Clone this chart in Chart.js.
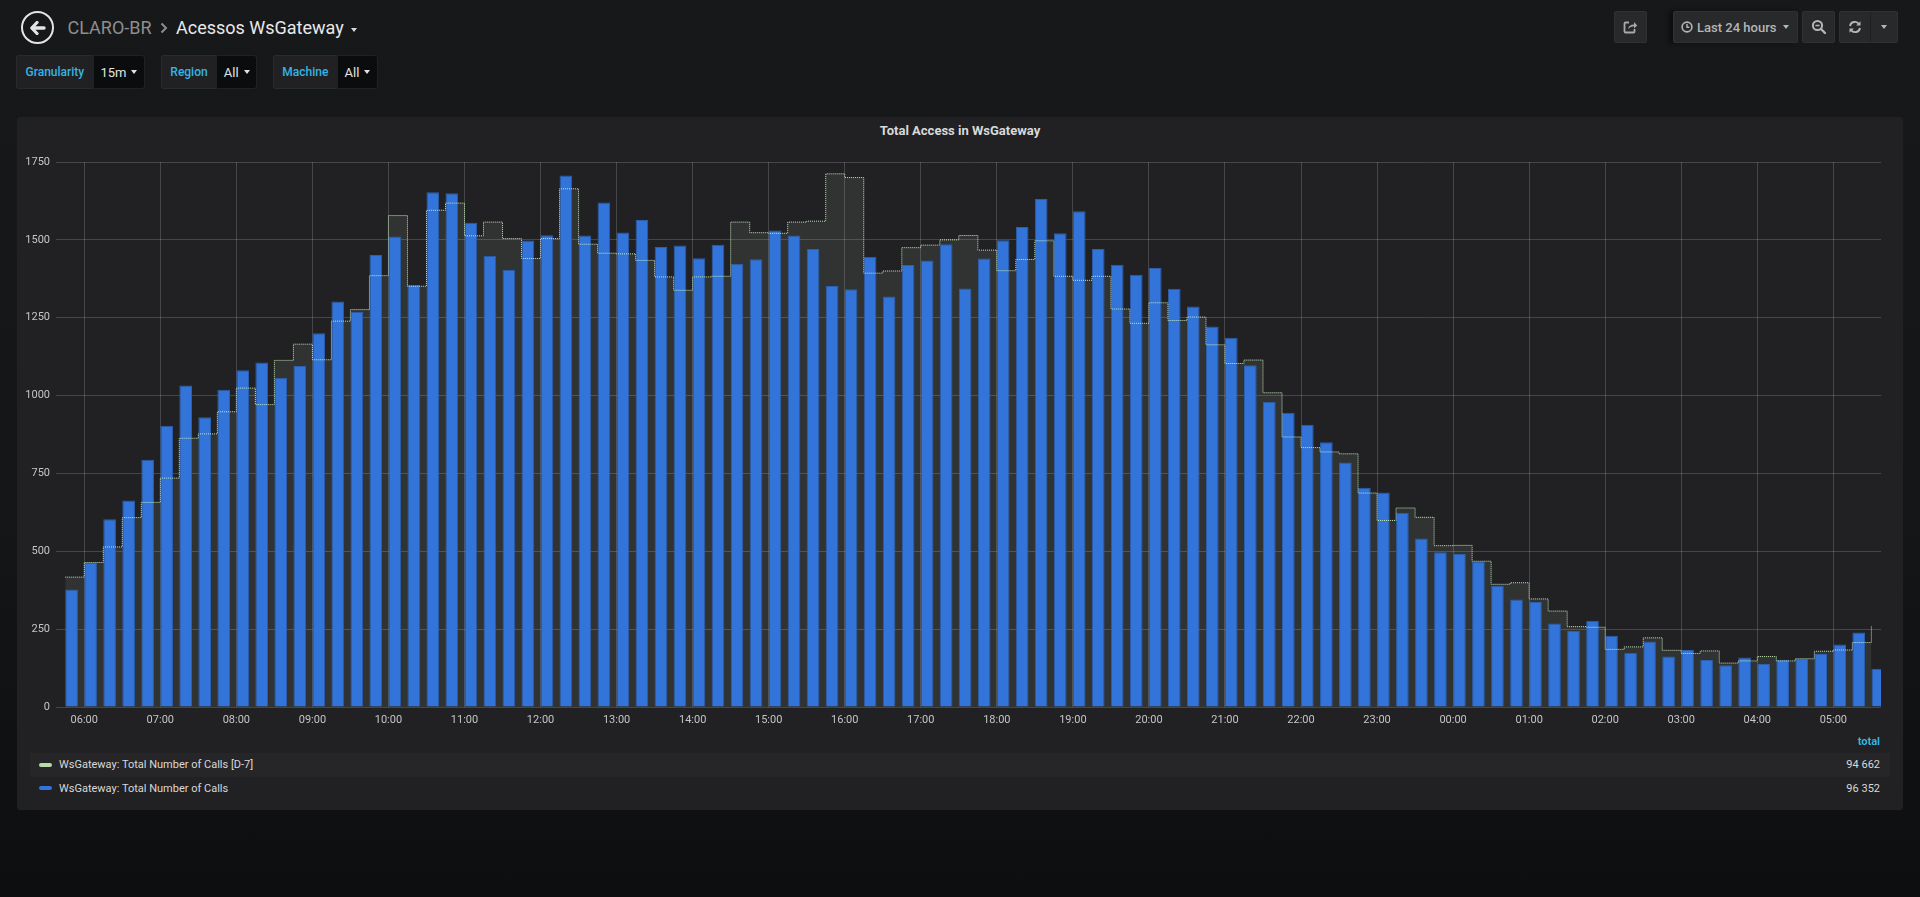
<!DOCTYPE html>
<html lang="pt-BR">
<head>
<meta charset="utf-8">
<title>Acessos WsGateway</title>
<script src="https://cdn.jsdelivr.net/npm/chart.js@4.4.1/dist/chart.umd.min.js"></script>
<style>
  * { box-sizing: border-box; }
  html, body { margin: 0; padding: 0; }
  body {
    width: 1920px;
    height: 897px;
    overflow: hidden;
    position: relative;
    background: linear-gradient(#17181a 0%, #151618 55%, #0d0e10 100%);
    font-family: Roboto, 'Noto Sans', sans-serif;
    color: #d8d9da;
  }
  .abs { position: absolute; }
  .back {
    left: 21px; top: 11px; width: 33px; height: 33px;
    border: 2.3px solid #e4e4e4; border-radius: 50%;
    display: flex; align-items: center; justify-content: center;
  }
  .crumb { top: 9px; height: 36px; display: flex; align-items: center; font-size: 18px; white-space: nowrap; }
  .caret {
    width: 0; height: 0;
    border-left: 3.5px solid transparent;
    border-right: 3.5px solid transparent;
    border-top: 4px solid currentColor;
  }
  .var { top: 55px; height: 34px; display: flex; }
  .var .lbl {
    background: #212124; border: 1px solid #2a2b2e; border-right: none;
    color: #33b5e5; font-size: 12px; font-weight: 500;
    display: flex; align-items: center; justify-content: center;
    border-radius: 3px 0 0 3px;
  }
  .var .val {
    background: #0b0c0e; border: 1px solid #202124; border-radius: 0 3px 3px 0;
    color: #e3e3e3; font-size: 13px;
    display: flex; align-items: center; justify-content: center; gap: 5px;
  }
  .btn {
    top: 11px; height: 32px;
    background: #28292b; border: 1px solid #303134; border-radius: 2px;
    color: #b5b5b5; font-size: 13px; font-weight: 500;
    display: flex; align-items: center; justify-content: center;
  }
  .panel { left: 17px; top: 117px; width: 1886px; height: 693px; background: #212124; border-radius: 3px; }
  .ptitle { left: 17px; width: 1886px; top: 122px; line-height: 18px; text-align: center; font-size: 13px; font-weight: 700; color: #d8d9da; }
  .chartbox { left: 17px; top: 140px; width: 1886px; height: 597px; }
  .ltotal { right: 40px; top: 734px; line-height: 16px; font-size: 11px; font-weight: 700; color: #33b5e5; }
  .lrow { left: 30px; width: 1860px; height: 23.4px; display: flex; align-items: center; font-size: 11px; color: #d8d9da; }
  .lrow .sw { margin-left: 9.3px; width: 12.7px; height: 4px; border-radius: 2px; }
  .lrow .nm { margin-left: 7px; }
  .lrow .tot { margin-left: auto; padding-right: 10px; }
</style>
</head>
<body>

<div class="abs back">
  <svg width="16" height="14" viewBox="0 0 16 14">
    <path d="M7 1.5 L1.8 7 L7 12.5" fill="none" stroke="#e4e4e4" stroke-width="3.2" stroke-linecap="round" stroke-linejoin="round"/>
    <path d="M2.5 7 H14" stroke="#e4e4e4" stroke-width="3.4" stroke-linecap="round"/>
  </svg>
</div>
<div class="abs crumb" style="left:67.5px;color:#8e8e8e;">CLARO-BR</div>
<svg class="abs" style="left:159.5px;top:21.5px;" width="8" height="12" viewBox="0 0 8 12">
  <path d="M1.5 1.5 L6 6 L1.5 10.5" fill="none" stroke="#8e8e8e" stroke-width="2"/>
</svg>
<div class="abs crumb" style="left:176px;color:#e9e9e9;">Acessos WsGateway</div>
<div class="abs caret" style="left:351px;top:28px;color:#d8d9da;"></div>

<div class="abs var" style="left:16px;">
  <div class="lbl" style="width:76.7px;">Granularity</div>
  <div class="val" style="width:52.6px;">15m<span class="caret"></span></div>
</div>
<div class="abs var" style="left:161px;">
  <div class="lbl" style="width:55px;">Region</div>
  <div class="val" style="width:41.3px;">All<span class="caret"></span></div>
</div>
<div class="abs var" style="left:273px;">
  <div class="lbl" style="width:63.7px;">Machine</div>
  <div class="val" style="width:41.6px;">All<span class="caret"></span></div>
</div>

<div class="abs btn" style="left:1614px;width:33px;">
  <svg width="15" height="14" viewBox="0 0 15 14">
    <path d="M6 2.5 H2.5 Q1.5 2.5 1.5 3.5 V11.5 Q1.5 12.5 2.5 12.5 H10.5 Q11.5 12.5 11.5 11.5 V9" fill="none" stroke="#a9a9a9" stroke-width="1.8"/>
    <path d="M5 9 Q6 4.5 11 4.5 V2 L14.2 5.4 L11 8.6 V6.3 Q7.5 6.3 5 9 Z" fill="#a9a9a9"/>
  </svg>
</div>
<div class="abs btn" style="left:1673px;width:124.5px;box-shadow:-4px 0 4px rgba(0,0,0,0.45);gap:4px;">
  <svg width="12" height="12" viewBox="0 0 12 12">
    <circle cx="6" cy="6" r="4.9" fill="none" stroke="#b5b5b5" stroke-width="1.6"/>
    <path d="M6 3 V6.3 H8.4" fill="none" stroke="#b5b5b5" stroke-width="1.4"/>
  </svg>
  <span>Last 24 hours</span>
  <span class="caret" style="margin-left:3px;"></span>
</div>
<div class="abs btn" style="left:1802px;width:33px;">
  <svg width="16" height="16" viewBox="0 0 16 16">
    <circle cx="6.5" cy="6.5" r="4.6" fill="none" stroke="#b5b5b5" stroke-width="2"/>
    <path d="M4.4 6.5 H8.6" stroke="#b5b5b5" stroke-width="1.6"/>
    <path d="M10 10 L14 14" stroke="#b5b5b5" stroke-width="2.4" stroke-linecap="round"/>
  </svg>
</div>
<div class="abs btn" style="left:1839px;width:58.5px;justify-content:flex-start;">
  <div style="width:31px;height:100%;display:flex;align-items:center;justify-content:center;border-right:1px solid #1f2022;">
    <svg width="14" height="14" viewBox="0 0 14 14">
      <path d="M2 6 A5 5 0 0 1 11 4" fill="none" stroke="#b5b5b5" stroke-width="1.9"/>
      <path d="M12.5 1.2 V5.6 H8.1 Z" fill="#b5b5b5"/>
      <path d="M12 8 A5 5 0 0 1 3 10" fill="none" stroke="#b5b5b5" stroke-width="1.9"/>
      <path d="M1.5 12.8 V8.4 H5.9 Z" fill="#b5b5b5"/>
    </svg>
  </div>
  <div style="flex:1;display:flex;align-items:center;justify-content:center;"><span class="caret"></span></div>
</div>

<div class="abs panel"></div>
<div class="abs ptitle">Total Access in WsGateway</div>
<div class="abs chartbox"><canvas id="chart"></canvas></div>

<div class="abs ltotal">total</div>
<div class="abs lrow" style="top:753.3px;background:#262629;">
  <span class="sw" id="sw0"></span><span class="nm" id="nm0"></span><span class="tot" id="tt0"></span>
</div>
<div class="abs lrow" style="top:776.7px;">
  <span class="sw" id="sw1"></span><span class="nm" id="nm1"></span><span class="tot" id="tt1"></span>
</div>

<script>
// 15 minute buckets, first one at 05:45 (minutes since midnight)
const startMinute = 345;
const stepMinutes = 15;

const callsD7 = [
	417, 464, 514, 608, 657, 735, 863, 877, 948, 1024, 971, 1113, 1165,
	1115, 1239, 1276, 1385, 1578, 1351, 1595, 1618, 1513, 1557, 1504, 1440,
	1504, 1664, 1486, 1457, 1455, 1434, 1381, 1338, 1381, 1383, 1557, 1523,
	1521, 1557, 1560, 1712, 1700, 1393, 1400, 1475, 1483, 1500, 1514, 1467,
	1401, 1437, 1497, 1383, 1370, 1383, 1278, 1232, 1298, 1241, 1252, 1163,
	1103, 1114, 1009, 867, 833, 819, 813, 687, 599, 639, 609, 518,
	519, 468, 394, 399, 347, 308, 258, 256, 185, 193, 222, 182,
	172, 180, 141, 148, 162, 148, 155, 179, 183, 207, 260,
];

const calls = [
	377, 462, 603, 663, 794, 903, 1032, 930, 1019, 1081, 1106, 1057, 1095,
	1200, 1302, 1269, 1451, 1511, 1355, 1653, 1650, 1555, 1449, 1404, 1498,
	1515, 1707, 1514, 1620, 1524, 1564, 1477, 1482, 1441, 1484, 1423, 1438,
	1530, 1514, 1471, 1352, 1341, 1446, 1318, 1419, 1434, 1486, 1344, 1440,
	1499, 1541, 1631, 1521, 1592, 1471, 1420, 1388, 1410, 1343, 1286, 1222,
	1186, 1097, 980, 945, 906, 850, 785, 704, 689, 624, 541, 497,
	491, 467, 389, 345, 337, 268, 244, 277, 229, 174, 210, 162,
	183, 151, 134, 159, 138, 152, 155, 170, 201, 239, 123,
];

const hourTicks = [
	'06:00', '07:00', '08:00', '09:00', '10:00', '11:00', '12:00', '13:00',
	'14:00', '15:00', '16:00', '17:00', '18:00', '19:00', '20:00', '21:00',
	'22:00', '23:00', '00:00', '01:00', '02:00', '03:00', '04:00', '05:00',
];

const seriesNames = ['WsGateway: Total Number of Calls [D-7]', 'WsGateway: Total Number of Calls'];
const seriesTotals = ['94 662', '96 352'];
const seriesColors = ['#b7dbab', '#3274d9'];

const yMax = 1750;
const yStep = 250;

const times = calls.map((_, i) => startMinute + i * stepMinutes);
const tickMinutes = hourTicks.map((_, i) => 360 + i * 60);
const toPoints = (values) => values.map((v, i) => ({ x: times[i], y: v }));

const d = document;
seriesNames.forEach((name, i) => {
	d.getElementById(`sw${i}`).style.background = seriesColors[i];
	d.getElementById(`nm${i}`).textContent = name;
	d.getElementById(`tt${i}`).textContent = seriesTotals[i];
});

const xMin = 337.7,
	xMax = 1777.6,
	barShift = 5;

const gridColor = 'rgba(255,255,255,0.17)',
	tickColor = '#c4c5c6',
	tickFont = { family: 'Roboto', size: 11 };

const config = {
	type: 'line',
	data: {
		datasets: [
			{
				type: 'line',
				label: seriesNames[0],
				data: toPoints(callsD7),
				xAxisID: 'x',
				stepped: true,
				fill: 'origin',
				backgroundColor: 'rgba(183,219,171,0.1)',
				borderColor: 'rgba(206,242,196,0.95)',
				borderWidth: 1,
				borderDash: [1, 1],
				pointRadius: 0,
				order: 0,
			},
			{
				type: 'bar',
				label: seriesNames[1],
				data: toPoints(calls),
				xAxisID: 'xb',
				grouped: false,
				backgroundColor: seriesColors[1],
				borderColor: '#2b5fb0',
				borderWidth: 1,
				categoryPercentage: 0.667,
				barPercentage: 1,
				order: 1,
			},
		],
	},
	options: {
		responsive: true,
		maintainAspectRatio: false,
		animation: false,
		layout: { padding: { top: 22, right: 22, left: 0, bottom: 0 } },
		plugins: {
			legend: { display: false },
			tooltip: { enabled: false },
			filler: { drawTime: 'beforeDatasetsDraw' },
		},
		scales: {
			x: {
				type: 'linear',
				min: xMin,
				max: xMax,
				offset: false,
				grid: { color: gridColor, drawTicks: false, offset: false },
				border: { display: false },
				afterBuildTicks: (scale) => {
					scale.ticks = tickMinutes.map((v) => ({ value: v }));
				},
				ticks: {
					autoSkip: false,
					maxRotation: 0,
					padding: 7,
					color: tickColor,
					font: tickFont,
					callback: (v, i) => hourTicks[i],
				},
				afterFit: (scale) => {
					scale.height = 30;
				},
			},
			xb: {
				type: 'linear',
				display: false,
				min: xMin - barShift,
				max: xMax - barShift,
				offset: false,
				grid: { offset: false },
			},
			y: {
				type: 'linear',
				min: 0,
				max: yMax,
				grid: { color: gridColor, drawTicks: false },
				border: { display: false },
				ticks: {
					stepSize: yStep,
					padding: 6,
					color: tickColor,
					font: tickFont,
					callback: (v) => String(v),
				},
				afterFit: (scale) => {
					scale.width = 39;
				},
			},
		},
	},
};

new Chart(d.getElementById('chart'), config);
</script>
</body>
</html>
